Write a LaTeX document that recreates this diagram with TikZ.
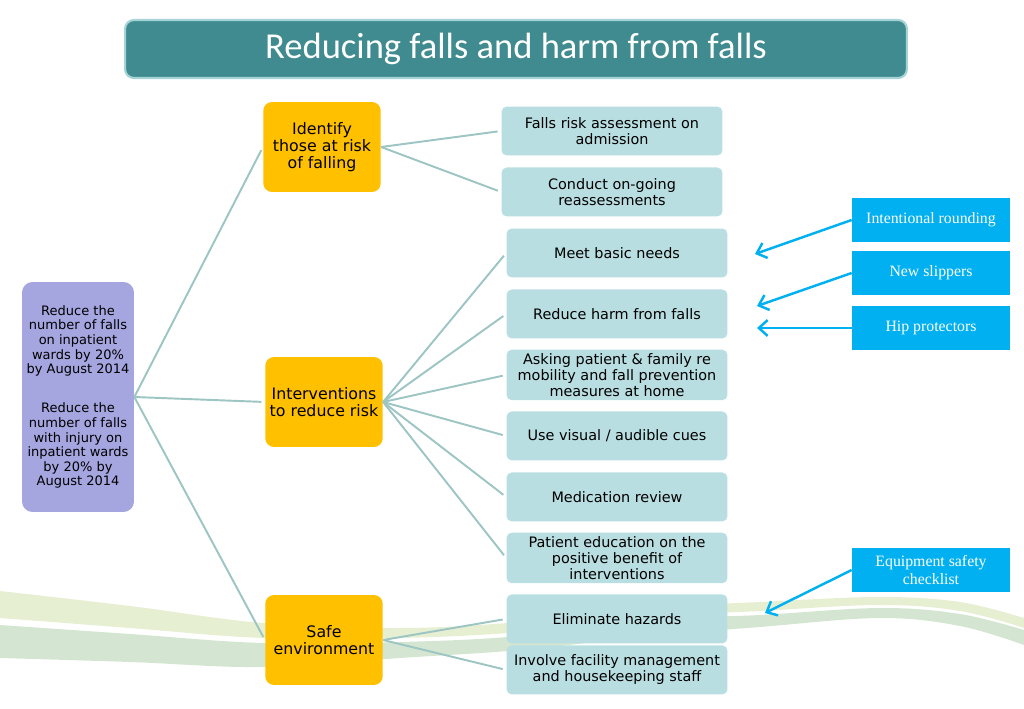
\documentclass[tikz,border=0pt]{standalone}
\usepackage{fontspec}
\setmainfont{DejaVu Sans}
\newfontfamily\titlefont{Carlito}
\newfontfamily\notefont{Liberation Serif}
\usetikzlibrary{positioning,arrows.meta}
\definecolor{titleteal}{HTML}{3F8B8F}
\definecolor{titleedge}{HTML}{A6D3D6}
\definecolor{goalpurple}{HTML}{A5A5E0}
\definecolor{themeorange}{HTML}{FFC000}
\definecolor{taskteal}{HTML}{B9DEE1}
\definecolor{noteblue}{HTML}{00B0F0}
\definecolor{linkteal}{HTML}{9CC5C3}
\definecolor{bandpale}{HTML}{E7EFD2}
\definecolor{bandgreen}{HTML}{D4E6D1}

\begin{document}
\begin{tikzpicture}[x=0.02cm,y=-0.02cm,node distance=1.22cm,on grid,
  every node/.style={align=center,inner sep=2pt},
  titlebar/.style={rectangle,rounded corners=5pt,fill=titleteal,draw=titleedge,line width=1.2pt,text=white,minimum width=15.64cm,minimum height=1.16cm,font=\titlefont\fontsize{20.8}{24}\selectfont},
  goal/.style={rectangle,rounded corners=6pt,fill=goalpurple,minimum width=2.24cm,minimum height=4.6cm,font=\fontsize{7.4}{8.3}\selectfont},
  theme/.style={rectangle,rounded corners=5pt,fill=themeorange,minimum width=2.35cm,minimum height=1.8cm,font=\fontsize{9}{9.8}\selectfont},
  task/.style={rectangle,rounded corners=3pt,fill=taskteal,minimum width=4.42cm,minimum height=0.98cm,font=\fontsize{8.2}{9.2}\selectfont},
  note/.style={rectangle,fill=noteblue,text=white,minimum width=3.16cm,minimum height=0.88cm,font=\notefont\fontsize{9}{10.5}\selectfont},
  link/.style={draw=linkteal,line width=1.1pt,shorten >=2pt},
  pointer/.style={draw=noteblue,line width=1.4pt,-{Straight Barb[length=5pt,width=9pt]}}]
\useasboundingbox (0,0) rectangle (1024,709);

% green swoosh behind the diagram
\fill[bandpale] plot[smooth,tension=0.6] coordinates {(0,591) (130,606) (263,623) (400,628) (520,622) (650,608) (760,602) (880,597) (960,602) (1024,618)}
  -- plot[smooth,tension=0.6] coordinates {(1024,628) (960,611) (880,605) (760,611) (650,617) (520,632) (400,638) (263,638) (130,628) (0,618)} -- cycle;
\fill[bandgreen] plot[smooth,tension=0.6] coordinates {(0,625) (130,634) (263,643) (400,642) (520,636) (650,620) (760,615) (880,608) (960,614) (1024,630)}
  -- plot[smooth,tension=0.6] coordinates {(1024,645) (960,626) (880,618) (760,627) (650,636) (520,650) (400,658) (263,667) (130,662) (0,658)} -- cycle;

\node[titlebar] (title) at (516,49) {Reducing falls and harm from falls};

\node[goal] (goal) at (78,397) {Reduce the\\number of falls\\on inpatient\\wards by 20\%\\by August 2014\\[14pt]Reduce the\\number of falls\\with injury on\\inpatient wards\\by 20\% by\\August 2014};

\node[theme] (risk) at (322,147) {Identify\\those at risk\\of falling};
\node[theme] (interv) at (324,402) {Interventions\\to reduce risk};
\node[theme] (safe) at (324,640) {Safe\\environment};

\node[task] (assess) at (612,131) {Falls risk assessment on\\admission};
\node[task] (reassess) [below=of assess] {Conduct on-going\\reassessments};
\node[task] (needs) at (617,253) {Meet basic needs};
\node[task] (harm) [below=of needs] {Reduce harm from falls};
\node[task] (family) [below=of harm] {Asking patient \& family re\\mobility and fall prevention\\measures at home};
\node[task] (cues) [below=of family] {Use visual / audible cues};
\node[task] (meds) [below=of cues] {Medication review};
\node[task] (educ) [below=of meds] {Patient education on the\\positive benefit of\\interventions};
\node[task] (hazards) [below=of educ] {Eliminate hazards};
\node[task] (staff) [below=1.02cm of hazards] {Involve facility management\\and housekeeping staff};

\node[note] (rounding) at (931,220) {Intentional rounding};
\node[note] (slippers) at (931,273) {New slippers};
\node[note] (hip) at (931,328) {Hip protectors};
\node[note] (equip) at (931,570) {Equipment safety\\checklist};

\coordinate (needs_tip) at (755,254);
\coordinate (harm_tip) at (757,306);
\coordinate (hip_tip) at (757,328);
\coordinate (hazards_tip) at (765,613);

\path
  (goal.east) edge[link] (risk.west)
              edge[link] (interv.west)
              edge[link] (safe.west)
  (risk.east) edge[link] (assess.west)
              edge[link] (reassess.west)
  (interv.east) edge[link] (needs.west)
                edge[link] (harm.west)
                edge[link] (family.west)
                edge[link] (cues.west)
                edge[link] (meds.west)
                edge[link] (educ.west)
  (safe.east) edge[link] (hazards.west)
              edge[link] (staff.west);

\path
  (rounding.west) edge[pointer] (needs_tip)
  (slippers.west) edge[pointer] (harm_tip)
  (hip.west) edge[pointer] (hip_tip)
  (equip.west) edge[pointer] (hazards_tip);
\end{tikzpicture}
\end{document}
